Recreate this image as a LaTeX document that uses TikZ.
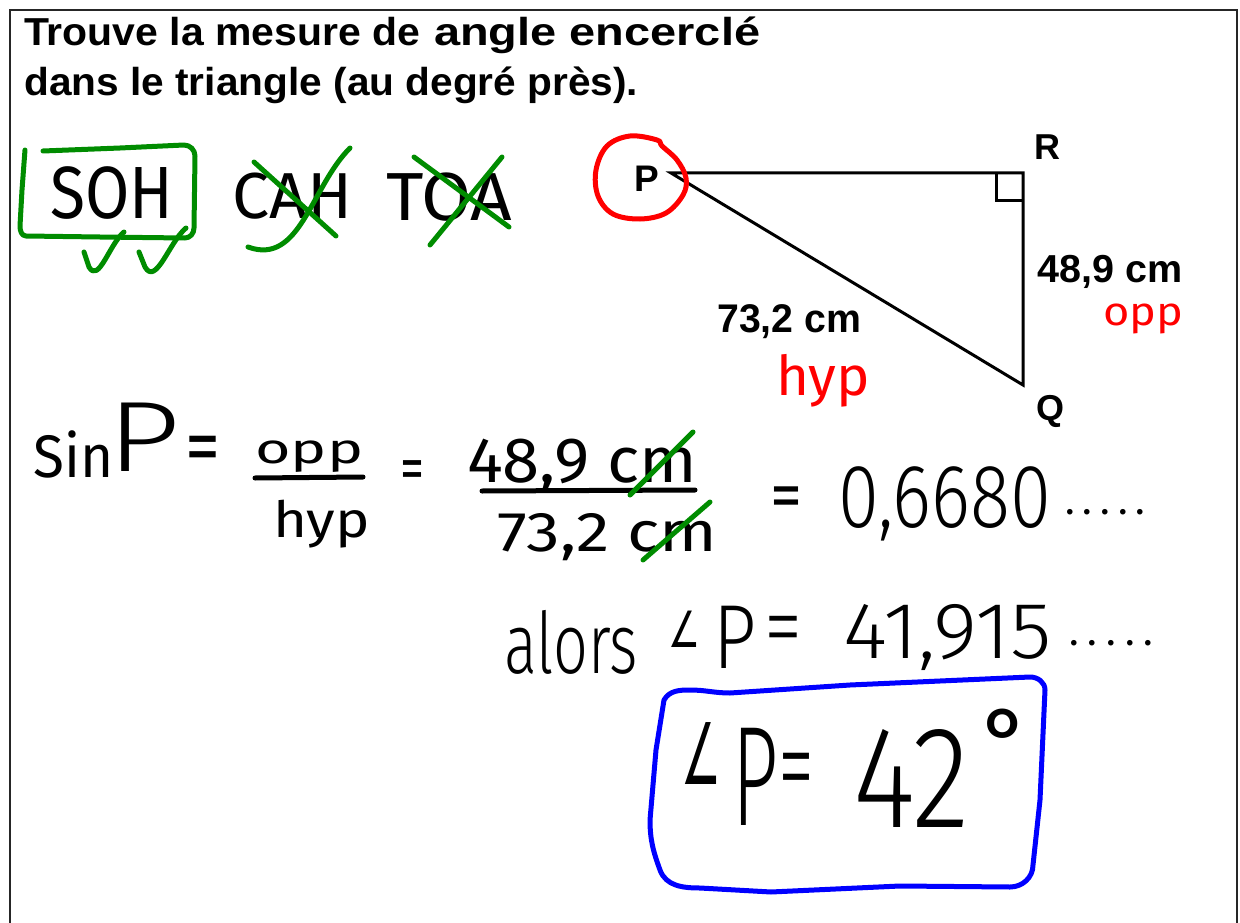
\documentclass[tikz,border=0pt]{standalone}
\usepackage{fontspec}
\usepackage{graphicx}
\setmainfont{Liberation Sans}
\newfontfamily\hand{Fira Sans Light}
\newfontfamily\handr{Fira Sans}
\newfontfamily\symf{DejaVu Sans}
\definecolor{greenink}{RGB}{0,140,0}
\definecolor{redink}{RGB}{255,0,0}
\definecolor{blueink}{RGB}{0,0,255}
\newcommand\fs[1]{\fontsize{#1}{#1}\selectfont}
\newcommand\fw[2]{\resizebox{#1pt}{\height}{#2}}
\newcommand\fivedots[1]{.\hspace{#1pt}.\hspace{#1pt}.\hspace{#1pt}.\hspace{#1pt}.}
\tikzset{
  typed/.style={inner sep=0pt, anchor=base west, font=\bfseries},
  hw/.style={inner sep=0pt, anchor=base west, font=\hand},
  hwr/.style={inner sep=0pt, anchor=base west, font=\handr},
  hwc/.style={inner sep=0pt, anchor=center, font=\handr},
  hwcl/.style={inner sep=0pt, anchor=center, font=\hand},
  ink/.style={line width=5pt, line cap=round, line join=round},
  edge/.style={line width=3pt, line join=miter},
}
\begin{document}
\begin{tikzpicture}[x=1pt,y=-1pt]
\useasboundingbox (0,0) rectangle (1240,923);
% frame
\draw[line width=2.5pt, black!85] (10,923) -- (10,10) -- (1237,10) -- (1237,923);
% title
\node[typed] (t1a) at (24,46) {\fs{39}\fw{396}{Trouve la mesure de}};
\node[typed] (t1b) at (434,46) {\fs{39}\fw{326}{angle encerclé}};
\node[typed] (t2) at (24,96) {\fs{39}\fw{614}{dans le triangle (au degré près).}};
% SOH CAH TOA
\node[hwr] (soh) at (50,218) {\fs{74}\fw{123}{SOH}};
\node[hwr] (cah) at (232,218) {\fs{65}\fw{120}{CAH}};
\node[hwr] (toa) at (386,220) {\fs{68}\fw{126}{TOA}};
\draw[ink, greenink] (43,151) -- (120,148) -- (184,145) to[out=0,in=90] (195,156)
  -- (194,228) to[out=-90,in=0] (185,238) -- (100,237) -- (26,236)
  to[out=180,in=-90] (20,226) -- (22,190) -- (25,150);
\draw[ink, greenink] (84,252) -- (89,267) to[out=-60,in=220] (124,232);
\draw[ink, greenink] (139,252) -- (145,267) to[out=-60,in=220] (186,228);
\draw[ink, greenink] (254,162) -- (336,236);
\draw[ink, greenink] (248,247) to[out=-20,in=225] (350,148);
\draw[ink, greenink] (414,157) -- (509,227);
\draw[ink, greenink] (430,245) -- (502,157);
% triangle
\coordinate (P) at (671,173);
\coordinate (R) at (1023,173);
\coordinate (Q) at (1023,385);
\draw[edge] (P) -- (R) -- (Q) -- cycle;
\draw[line width=3pt] (996,173) -- (996,200) -- (R|-0,200);
\node[typed] (lP) at (634,191) {\fs{37}P};
\node[typed] (lR) at (1034,160) {\fs{36}R};
\node[typed] (lQ) at (1036,420) {\fs{36}Q};
\node[typed] (lopp) at (1037,282) {\fs{39}\fw{145}{48,9 cm}};
\node[typed] (lhyp) at (717,332) {\fs{40}\fw{144}{73,2 cm}};
\draw[ink, redink] plot[smooth cycle, tension=0.6] coordinates {(657,140) (630,136) (607,146) (596,170) (598,196) (613,214) (640,219) (666,213) (683,195) (686,178) (677,160) (662,146)};
\node[hwr, redink] (rhyp) at (776,395) {\fs{55}\fw{94}{hyp}};
\node[hwr, redink] (ropp) at (1103,325) {\fs{40}\fw{80}{opp}};
% sin P line
\node[hwr] (sin) at (33,477) {\fs{60}\fw{80}{Sin}};
\node[hw] (sP) at (107,471) {\fs{100}\fw{73}{P}};
\node[hwc] (eq1) at (203,455) {\fs{80}\fw{35}{=}};
\node[hwr] (fopp) at (255,463) {\fs{42}\fw{108}{opp}};
\draw[ink] (255,478) -- (363,477);
\node[hwr] (fhyp) at (273,537) {\fs{50}\fw{97}{hyp}};
\node[hwc] (eq2) at (412,475) {\fs{62}\fw{24}{=}};
\node[hwr] (num) at (467,482) {\fs{64}\fw{230}{48,9 cm}};
\draw[ink] (482,491) -- (695,490);
\node[hwr] (den) at (497,551) {\fs{56}\fw{220}{73,2 cm}};
\draw[ink, greenink] (630,495) -- (693,432);
\draw[ink, greenink] (643,560) -- (710,502);
\node[hwc] (eq3) at (786,503) {\fs{68}\fw{32}{=}};
\node[hw] (val) at (838,527) {\fs{90}\fw{213}{0,6680}};
\node[hwr] (dots1) at (1065,514) {\fs{40}\fivedots{8}};
% alors line
\node[hw] (alors) at (504,673) {\fs{85}\fw{134}{alors}};
\node[hwc] (ang1) at (684,629) {\fs{50}\symf\fw{32}{∠}};
\node[hw] (aP) at (713,668) {\fs{91}\fw{43}{P}};
\node[hwcl] (eq4) at (783,637) {\fs{95}\fw{38}{=}};
\node[hw] (deg) at (843,658) {\fs{80}\fw{209}{41,915}};
\node[hwr] (dots2) at (1069,645) {\fs{40}\fivedots{9}};
% answer
\draw[ink, blueink] (664,700) to[out=60,in=180] (690,690) to[out=0,in=180] (730,693)
  -- (850,685) -- (1030,677) to[out=0,in=90] (1045,690) -- (1040,800) -- (1033,865)
  to[out=-90,in=0] (1010,887) -- (900,886) -- (771,892) -- (700,888)
  to[out=180,in=-70] (660,870) to[out=110,in=-90] (650,820) -- (656,750) -- cycle;
\node[hwc] (ang2) at (701,754) {\fs{85}\symf\fw{40}{∠}};
\node[hw] (fP) at (732,825) {\fs{142}\fw{46}{P}};
\node[hwcl] (eq5) at (796,780) {\fs{120}\fw{36}{=}};
\node[hw] (ans) at (853,827) {\fs{145}\fw{117}{42}};
\node[hwr] (degsym) at (982,773) {\fs{92}°};
\end{tikzpicture}
\end{document}
